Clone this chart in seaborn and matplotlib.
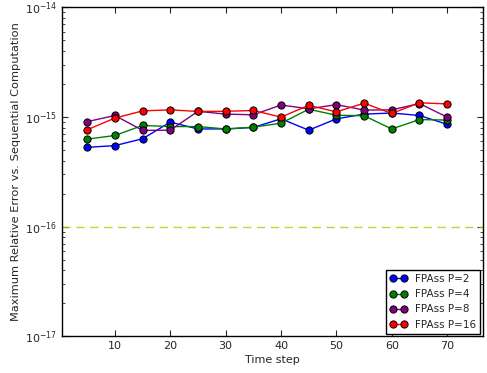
import matplotlib
matplotlib.use("Agg")
import matplotlib.pyplot as plt
import seaborn as sns
import pandas as pd

# time steps and errors
steps = [5, 10, 15, 20, 25, 30, 35, 40, 45, 50, 55, 60, 65, 70]
err_p2 = [5.3e-16, 5.5e-16, 6.35e-16, 9.0e-16, 7.8e-16, 7.8e-16, 8.05e-16,
          9.65e-16, 7.6e-16, 9.65e-16, 1.065e-15, 1.09e-15, 1.035e-15, 8.6e-16]
err_p4 = [6.3e-16, 6.8e-16, 8.4e-16, 8.2e-16, 8.2e-16, 7.8e-16, 8.1e-16,
          8.8e-16, 1.18e-15, 1.04e-15, 1.03e-15, 7.8e-16, 9.5e-16, 9.4e-16]
err_p8 = [9.1e-16, 1.035e-15, 7.57e-16, 7.6e-16, 1.13e-15, 1.065e-15, 1.05e-15,
          1.29e-15, 1.19e-15, 1.30e-15, 1.16e-15, 1.165e-15, 1.33e-15, 1.0e-15]
err_p16 = [7.67e-16, 9.8e-16, 1.14e-15, 1.165e-15, 1.127e-15, 1.13e-15, 1.15e-15,
           1.0e-15, 1.28e-15, 1.117e-15, 1.34e-15, 1.08e-15, 1.35e-15, 1.32e-15]
labels = ["FPAss P=2", "FPAss P=4", "FPAss P=8", "FPAss P=16"]
colors = ["blue", "green", "purple", "red"]
threshold = 1e-16

sns.set_style("white")
plt.rcParams.update({
    "font.family": ["DejaVu Sans"],
    "font.size": 8,
    "xtick.direction": "in",
    "ytick.direction": "in",
    "xtick.top": True,
    "ytick.right": True,
    "xtick.bottom": True,
    "ytick.left": True,
    "xtick.major.size": 4,
    "ytick.major.size": 4,
    "xtick.minor.size": 2,
    "ytick.minor.size": 2,
    "axes.edgecolor": "black",
    "axes.linewidth": 1.0,
})

fig = plt.figure(figsize=(4.87, 3.73), dpi=100)
ax = fig.add_axes([0.128, 0.098, 0.864, 0.882])

for ys, lab, col in zip([err_p2, err_p4, err_p8, err_p16], labels, colors):
    df = pd.DataFrame({"step": steps, "err": ys})
    sns.lineplot(data=df, x="step", y="err", ax=ax, color=col, label=lab,
                 marker="o", markersize=5.2, markeredgecolor="black",
                 markeredgewidth=0.7, linewidth=1.0)

# reference level
ax.axhline(threshold, color=(0.76, 0.76, 0.0), linestyle=(0, (6, 4)),
           linewidth=1.0, alpha=0.8)

ax.set_yscale("log")
ax.set_ylim(1e-17, 1e-14)
ax.set_xlim(0.5, 76.5)
ax.set_xticks(range(10, 71, 10))
ax.set_xlabel("Time step", fontsize=8, labelpad=3)
ax.set_ylabel("Maximum Relative Error vs. Sequential Computation", fontsize=8.2,
              labelpad=3)
ax.tick_params(labelsize=8)

ax.legend(loc="lower right", numpoints=2, fancybox=False, edgecolor="black",
          fontsize=7.5, handlelength=1.6, borderpad=0.4, labelspacing=0.5,
          borderaxespad=0.25, framealpha=1)

fig.savefig("out.png", dpi=100)
